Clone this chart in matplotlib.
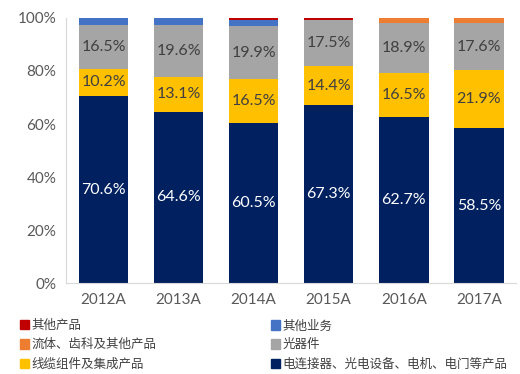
import matplotlib.pyplot as plt
import numpy as np
from matplotlib.patches import Patch

plt.rcParams['font.family'] = ['Lato', 'Noto Sans CJK SC', 'DejaVu Sans']

years = ["2012A", "2013A", "2014A", "2015A", "2016A", "2017A"]
connector = [70.6, 64.6, 60.5, 67.3, 62.7, 58.5]
cable = [10.2, 13.1, 16.5, 14.4, 16.5, 21.9]
optical = [16.5, 19.6, 19.9, 17.5, 18.9, 17.6]
fluid = [0, 0, 0, 0, 1.9, 2.0]
other_biz = [2.7, 2.7, 2.5, 0, 0, 0]
other_prod = [0, 0, 0.6, 0.8, 0, 0]

names = ["电连接器、光电设备、电机、电门等产品", "线缆组件及集成产品", "光器件",
         "流体、齿科及其他产品", "其他业务", "其他产品"]
colors = ["#002060", "#FFC000", "#A5A5A5", "#ED7D31", "#4472C4", "#C00000"]
series = [connector, cable, optical, fluid, other_biz, other_prod]

fig = plt.figure(figsize=(5.2, 3.74), dpi=100)
ax = fig.add_axes([0.127, 0.243, 0.866, 0.709])

x = np.arange(len(years))
bottom = np.zeros(len(years))
for vals, c in zip(series, colors):
    ax.bar(x, vals, 0.66, bottom=bottom, color=c)
    bottom += np.array(vals)

# labels on the three main segments
label_colors = ["white", "#404040", "#404040"]
bottom = np.zeros(len(years))
for vals, tc in zip(series[:3], label_colors):
    for i, v in enumerate(vals):
        ax.text(x[i], bottom[i] + v / 2, f"{v:.1f}%", ha="center", va="center",
                fontsize=11.5, color=tc)
    bottom += np.array(vals)

ax.set_xlim(-0.5, 5.5)
ax.set_ylim(0, 100)
ax.set_yticks(range(0, 101, 20))
ax.set_yticklabels([f"{t}%" for t in range(0, 101, 20)], color="#595959", fontsize=11)
ax.set_xticks(x)
ax.set_xticklabels(years, color="#595959", fontsize=11)
ax.tick_params(length=0, pad=7)
for s in ["top", "right"]:
    ax.spines[s].set_visible(False)
for s in ["left", "bottom"]:
    ax.spines[s].set_color("#D9D9D9")

# two legend columns: left = 其他产品 / 流体 / 线缆, right = 其他业务 / 光器件 / 电连接器
left_idx = [5, 3, 1]
right_idx = [4, 2, 0]
for idx, xpos in [(left_idx, 20 / 520), (right_idx, 271 / 520)]:
    hs = [Patch(color=colors[i], label=names[i]) for i in idx]
    leg = fig.legend(handles=hs, loc="lower left", bbox_to_anchor=(xpos, 0.012),
                     frameon=False, fontsize=9, handlelength=0.75, handleheight=0.75,
                     handletextpad=0.15, labelspacing=0.55, borderpad=0,
                     borderaxespad=0, labelcolor="#404040")

fig.savefig("out.png", dpi=100)
